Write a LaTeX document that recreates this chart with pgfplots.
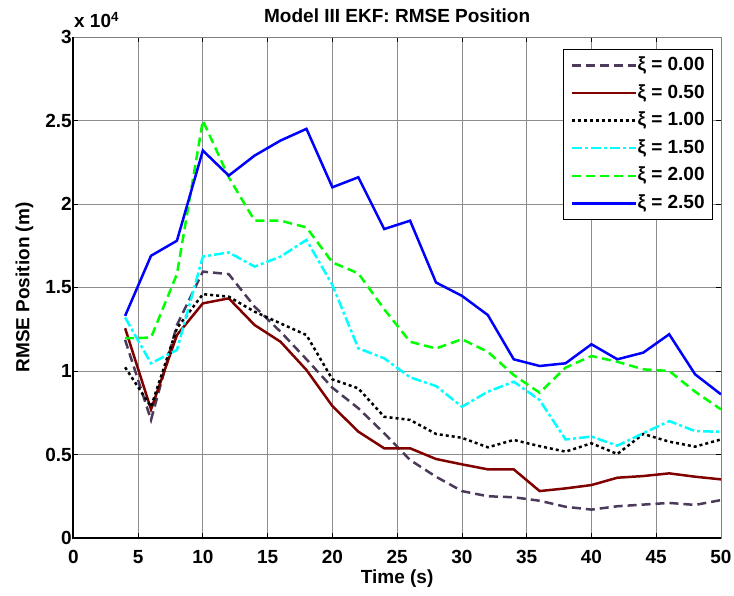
\documentclass[border=0pt]{standalone}
\usepackage{fontspec}
\setmainfont{Liberation Sans}
\usepackage{pgfplots}
\pgfplotsset{compat=1.18}
\usepackage{pgfplotstable}
\definecolor{cdark}{RGB}{75,58,90}
\definecolor{cmaroon}{RGB}{128,0,0}
\definecolor{ccyan}{RGB}{0,255,255}
\definecolor{cgreen}{RGB}{0,255,0}
\definecolor{cblue}{RGB}{0,0,255}
\pgfplotstableread{
t   a      b      c      d      e      f
4   1.186  1.256  1.022  1.320  1.196  1.330
6   0.707  0.770  0.786  1.046  1.200  1.690
8   1.275  1.215  1.256  1.126  1.580  1.780
10  1.595  1.405  1.460  1.685  2.500  2.320
12  1.580  1.435  1.445  1.710  2.160  2.170
14  1.385  1.275  1.355  1.625  1.900  2.290
16  1.235  1.175  1.285  1.685  1.900  2.380
18  1.070  1.006  1.215  1.785  1.860  2.450
20  0.900  0.790  0.950  1.515  1.650  2.100
22  0.777  0.637  0.896  1.136  1.585  2.160
24  0.627  0.537  0.726  1.076  1.370  1.850
26  0.467  0.537  0.707  0.962  1.175  1.900
28  0.367  0.473  0.623  0.910  1.135  1.530
30  0.281  0.441  0.600  0.786  1.190  1.450
32  0.250  0.411  0.543  0.876  1.115  1.335
34  0.244  0.411  0.587  0.936  0.976  1.070
36  0.223  0.281  0.550  0.826  0.870  1.030
38  0.187  0.297  0.517  0.590  1.020  1.046
40  0.170  0.317  0.567  0.607  1.090  1.160
42  0.190  0.361  0.503  0.553  1.055  1.070
44  0.200  0.371  0.623  0.627  1.010  1.110
46  0.210  0.387  0.577  0.700  1.000  1.220
48  0.198  0.367  0.547  0.640  0.876  0.980
50  0.227  0.351  0.590  0.636  0.770  0.860
}\datatable
\begin{document}
\begin{tikzpicture}
\begin{axis}[
  scale only axis,
  width=647.7pt, height=501pt,
  at={(0,0)}, anchor=south west,
  clip mode=individual,
  xmin=0, xmax=50, ymin=0, ymax=3,
  xtick={0,5,...,50},
  ytick={0,0.5,1,1.5,2,2.5,3},
  /pgf/number format/assume math mode=true,
  font=\fontsize{19}{22}\selectfont\bfseries,
  ticklabel style={font=\fontsize{19}{22}\selectfont\bfseries},
  xticklabel style={yshift=-9pt},
  yticklabel style={xshift=2pt},
  tick align=inside, tick pos=both,
  major tick length=5pt,
  tick style={black, line width=0.8pt},
  grid=major,
  major grid style={black!45, line width=0.8pt},
  axis line style={draw=black!50, line width=0.8pt},
  every axis title shift=0pt,
  title={Model III EKF: RMSE Position},
  title style={at={(axis description cs:0.5,1.028)}, anchor=base, inner sep=0pt},
  xlabel={Time (s)},
  xlabel style={at={(axis description cs:0.5,-0.09)}, anchor=base, inner sep=0pt},
  ylabel={RMSE Position (m)},
  ylabel style={at={(axis description cs:-0.068,0.5)}, rotate=0, anchor=base, inner sep=0pt},
  legend cell align=left,
  legend style={at={(axis description cs:0.9877,0.976)}, anchor=north east,
    draw=black, line width=0.8pt, fill=white,
    inner xsep=8pt, inner ysep=7pt,
    row sep=9.6pt,
    font=\fontsize{19}{22}\selectfont\bfseries,
    nodes={inner sep=0pt, text height=14pt, text depth=4pt}},
  legend image code/.code={\draw[#1] (0pt,0pt) -- (60pt,0pt); \path (60pt,0pt) -- (64pt,0pt);},
  every axis plot/.append style={line width=2.5pt},
]
\addplot[cdark, dash pattern=on 9pt off 5pt] table[x=t,y=a]{\datatable};
\addlegendentry{ξ = 0.00}
\addplot[cmaroon] table[x=t,y=b]{\datatable};
\addlegendentry{ξ = 0.50}
\addplot[black, dash pattern=on 3pt off 3pt] table[x=t,y=c]{\datatable};
\addlegendentry{ξ = 1.00}
\addplot[ccyan, dash pattern=on 10pt off 3pt on 3pt off 3pt] table[x=t,y=d]{\datatable};
\addlegendentry{ξ = 1.50}
\addplot[cgreen, dash pattern=on 9pt off 5pt] table[x=t,y=e]{\datatable};
\addlegendentry{ξ = 2.00}
\addplot[cblue] table[x=t,y=f]{\datatable};
\addlegendentry{ξ = 2.50}
\draw[black, line width=2pt] (rel axis cs:0,1) -- (rel axis cs:0,0) -- (rel axis cs:1,0);
\node[anchor=base west, inner sep=0pt] at (axis description cs:0.001,1.018) {x 10\textsuperscript{4}};
\end{axis}
\pgfresetboundingbox
\useasboundingbox (-73.3pt,-58pt) rectangle (660.7pt,538pt);
\end{tikzpicture}
\end{document}
